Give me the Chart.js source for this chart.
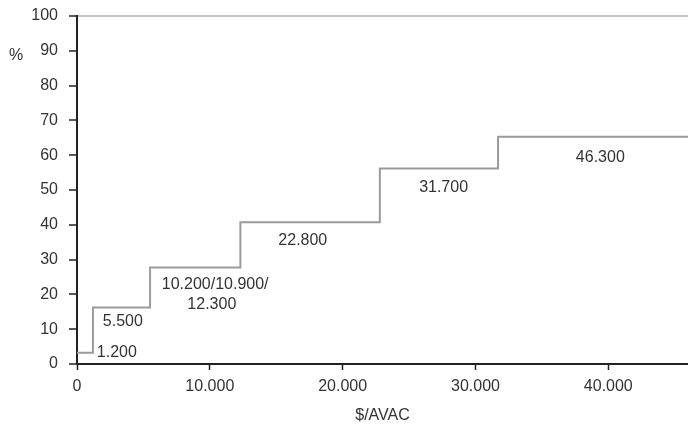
<!DOCTYPE html>
<html>
<head>
<meta charset="utf-8">
<script src="https://cdn.jsdelivr.net/npm/chart.js@4"></script>
<style>
  body { margin: 0; background: #fff; }
  #wrap { width: 688px; height: 424px; position: relative; }
</style>
</head>
<body>
<div id="wrap"><canvas id="stepChart"></canvas></div>
<script>
// cost thresholds ($/AVAC) where the curve steps up, and the % level reached there
const costSteps = [0, 1200, 5500, 12300, 22800, 31700, 46000];
const shareLevels = [3.2, 16.2, 27.7, 40.7, 56.2, 65.3, 65.3];

// text labels on the steps (data coordinates)
const stepLabels = ["1.200", "5.500", "10.200/10.900/", "12.300", "22.800", "31.700", "46.300"];
const stepLabelX = [3000, 3450, 10400, 10150, 17000, 27600, 39400];
const stepLabelY = [3.3, 12.2, 22.7, 17.0, 35.6, 50.6, 59.2];

const xTicks = [0, 10000, 20000, 30000, 40000];
const yTicks = [0, 10, 20, 30, 40, 50, 60, 70, 80, 90, 100];

const FONT = "'Liberation Sans', Arial, sans-serif";
const TEXT = '#333333';
const AXIS = '#222222';

function fmtThousands(v) {
    return String(v).replace(/\B(?=(\d{3})+(?!\d))/g, ".");
}

const textPlugin = {
    id: 'stepText',
    afterDraw(chart) {
        const ctx = chart.ctx;
        const xs = chart.scales.x;
        const ys = chart.scales.y;
        const area = chart.chartArea;
        ctx.save();
        ctx.fillStyle = TEXT;
        ctx.font = "16px " + FONT;
        ctx.textAlign = 'center';
        ctx.textBaseline = 'middle';
        stepLabels.forEach((t, i) => {
            ctx.fillText(t, xs.getPixelForValue(stepLabelX[i]), ys.getPixelForValue(stepLabelY[i]));
        });
        // axis titles
        ctx.fillText("$/AVAC", (area.left + area.right) / 2, 416);
        ctx.fillText("%", 16, ys.getPixelForValue(90) + 5);
        ctx.restore();
    }
};

document.addEventListener("DOMContentLoaded", function () {
    const ctx = document.getElementById("stepChart");

    new Chart(ctx, {
        type: 'line',
        data: {
            datasets: [{
                data: costSteps.map((c, i) => ({ x: c, y: shareLevels[i] })),
                stepped: 'before',
                borderColor: '#9b9b9b',
                borderWidth: 2,
                pointRadius: 0,
                fill: false
            }]
        },
        options: {
            responsive: true,
            maintainAspectRatio: false,
            animation: false,
            layout: { padding: { top: 16, right: 0, left: 0, bottom: 0 } },
            plugins: {
                legend: { display: false },
                tooltip: { enabled: false }
            },
            scales: {
                x: {
                    type: 'linear',
                    min: 0,
                    max: 46000,
                    afterFit: s => { s.height = 60; },
                    afterBuildTicks: s => { s.ticks = xTicks.map(v => ({ value: v })); },
                    border: { color: AXIS, width: 2 },
                    grid: { color: 'transparent', tickColor: AXIS, tickLength: 6, tickWidth: 1.5 },
                    ticks: {
                        color: TEXT,
                        padding: 7,
                        autoSkip: false,
                        font: { family: FONT, size: 16 },
                        maxRotation: 0,
                        callback: v => fmtThousands(v)
                    }
                },
                y: {
                    min: 0,
                    max: 100,
                    afterFit: s => { s.width = 77; s.paddingTop = 0; s.paddingBottom = 0; },
                    afterBuildTicks: s => { s.ticks = yTicks.map(v => ({ value: v })); },
                    border: { color: AXIS, width: 2 },
                    grid: {
                        color: c => c.tick && c.tick.value === 100 ? '#c4c4c4' : 'transparent',
                        lineWidth: 2,
                        tickColor: AXIS,
                        tickLength: 8,
                        tickWidth: 1.5
                    },
                    ticks: {
                        color: TEXT,
                        padding: 11,
                        font: { family: FONT, size: 16 }
                    }
                }
            }
        },
        plugins: [textPlugin]
    });
});
</script>
</body>
</html>
